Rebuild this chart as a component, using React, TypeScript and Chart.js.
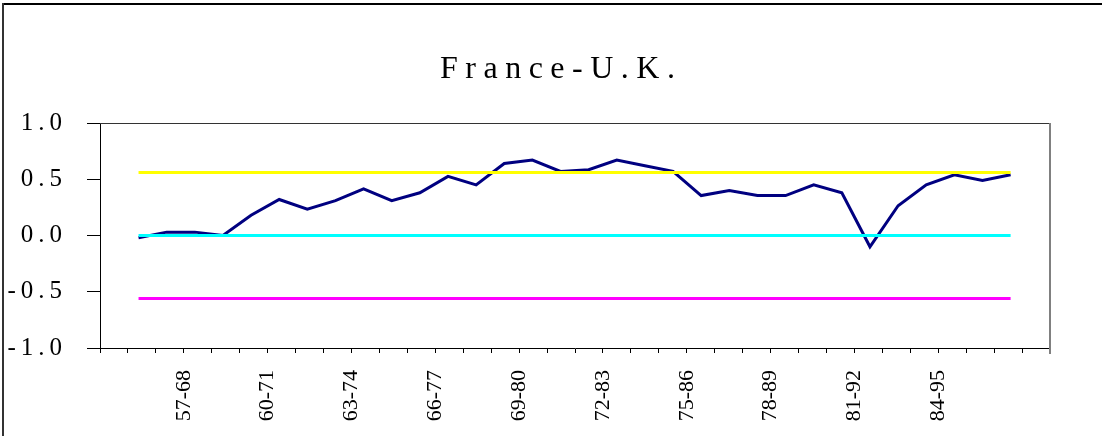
import React, { useEffect, useRef } from 'react';
import { Chart, registerables } from 'chart.js';

Chart.register(...registerables);

// ---- data ----
const chartTitle = 'France-U.K.';

// category tick labels along the x axis (35 tick marks, labels every third)
const xTickLabels = [
  '', '', '', '57-68',
  '', '', '60-71',
  '', '', '63-74',
  '', '', '66-77',
  '', '', '69-80',
  '', '', '72-83',
  '', '', '75-86',
  '', '', '78-89',
  '', '', '81-92',
  '', '', '84-95',
  '', '', '', '',
];

// rolling correlation France - U.K.
const correlation = [
  -0.02, 0.03, 0.03, 0.0, 0.18, 0.32, 0.235, 0.31, 0.415, 0.31, 0.38,
  0.525, 0.45, 0.64, 0.67, 0.57, 0.585, 0.67, 0.62, 0.57, 0.355, 0.4,
  0.355, 0.355, 0.45, 0.38, -0.1, 0.265, 0.45, 0.54, 0.49, 0.54,
];

const upperBound = 0.56;
const zeroLine = 0;
const lowerBound = -0.56;

const yMin = -1;
const yMax = 1;
const yStep = 0.5;

const FONT = "'Liberation Serif', 'Times New Roman', serif";

export default function App() {
  const ref = useRef<HTMLCanvasElement>(null);

  useEffect(() => {
    const canvas = ref.current!;
    const last = correlation.length - 1;
    const hline = (v: number) => [
      { x: 0, y: v },
      { x: last, y: v },
    ];

    const framePlugin = {
      id: 'frame',
      beforeDraw(chart: any) {
        const ctx = chart.ctx;
        ctx.save();
        ctx.fillStyle = '#fff';
        ctx.fillRect(0, 0, chart.width, chart.height);
        ctx.fillStyle = '#000';
        ctx.fillRect(2, 3, chart.width - 2, 2);
        ctx.fillStyle = '#333';
        ctx.fillRect(2, 3, 2, chart.height - 3);
        ctx.restore();
        ctx.letterSpacing = '5px';
      },
      afterDatasetsDraw(chart: any) {
        chart.ctx.letterSpacing = '0px';
      },
      afterDraw(chart: any) {
        const { ctx, chartArea: a } = chart;
        ctx.save();
        ctx.lineWidth = 1;
        ctx.strokeStyle = '#333';
        ctx.beginPath();
        ctx.moveTo(a.left, Math.round(a.top) + 0.5);
        ctx.lineTo(a.right, Math.round(a.top) + 0.5);
        ctx.stroke();
        ctx.strokeStyle = '#808080';
        ctx.lineWidth = 2;
        ctx.beginPath();
        ctx.moveTo(a.right, a.top);
        ctx.lineTo(a.right, a.bottom + 6);
        ctx.stroke();
        ctx.letterSpacing = '7.5px';
        ctx.font = `32px ${FONT}`;
        ctx.fillStyle = '#000';
        ctx.textAlign = 'left';
        ctx.textBaseline = 'alphabetic';
        ctx.fillText(chartTitle, 440, 78);
        ctx.restore();
      },
    };

    const chart = new Chart(canvas, {
      type: 'line',
      data: {
        datasets: [
          {
            label: 'upper',
            data: hline(upperBound),
            borderColor: '#FFFF00',
            borderWidth: 3,
            pointRadius: 0,
            xAxisID: 'xs',
            yAxisID: 'y',
          },
          {
            label: 'zero',
            data: hline(zeroLine),
            borderColor: '#00FFFF',
            borderWidth: 3,
            pointRadius: 0,
            xAxisID: 'xs',
            yAxisID: 'y',
          },
          {
            label: 'lower',
            data: hline(lowerBound),
            borderColor: '#FF00FF',
            borderWidth: 3,
            pointRadius: 0,
            xAxisID: 'xs',
            yAxisID: 'y',
          },
          {
            label: 'France-U.K.',
            data: correlation.map((v, i) => ({ x: i, y: v })),
            borderColor: '#000080',
            borderWidth: 3,
            pointRadius: 0,
            tension: 0,
            xAxisID: 'xs',
            yAxisID: 'y',
          },
        ],
      },
      options: {
        animation: false,
        responsive: false,
        maintainAspectRatio: false,
        devicePixelRatio: 1,
        layout: { padding: { left: 0, right: 52, top: 123, bottom: 0 } },
        plugins: {
          legend: { display: false },
          title: { display: false },
          tooltip: { enabled: false },
        },
        scales: {
          x: {
            type: 'linear',
            position: 'bottom',
            min: 0,
            max: xTickLabels.length - 1,
            ticks: {
              stepSize: 1,
              autoSkip: false,
              maxRotation: 90,
              minRotation: 90,
              padding: 17,
              color: '#000',
              font: { family: FONT, size: 22 },
              callback: (v: any) => xTickLabels[Number(v)] ?? '',
              z: 1,
            },
            grid: { drawOnChartArea: false, tickLength: 5, color: '#000', lineWidth: 1 },
            border: { color: '#000', width: 1 },
            afterFit: (s: any) => {
              s.height = 88;
            },
          },
          xs: {
            type: 'linear',
            display: false,
            min: -1.37,
            max: 32.4,
          },
          y: {
            type: 'linear',
            min: yMin,
            max: yMax,
            ticks: {
              stepSize: yStep,
              padding: 20,
              color: '#000',
              font: { family: FONT, size: 25 },
              callback: (v: any) => Number(v).toFixed(1),
            },
            grid: { drawOnChartArea: false, tickLength: 13, color: '#000', lineWidth: 1 },
            border: { color: '#000', width: 1 },
            afterFit: (s: any) => {
              s.width = 100;
            },
          },
        },
      },
      plugins: [framePlugin],
    } as any);

    return () => chart.destroy();
  }, []);

  return (
    <div style={{ position: 'fixed', left: 0, top: 0, width: 1102, height: 436, background: '#fff' }}>
      <canvas ref={ref} width={1102} height={436} style={{ display: 'block', width: 1102, height: 436 }} />
    </div>
  );
}
